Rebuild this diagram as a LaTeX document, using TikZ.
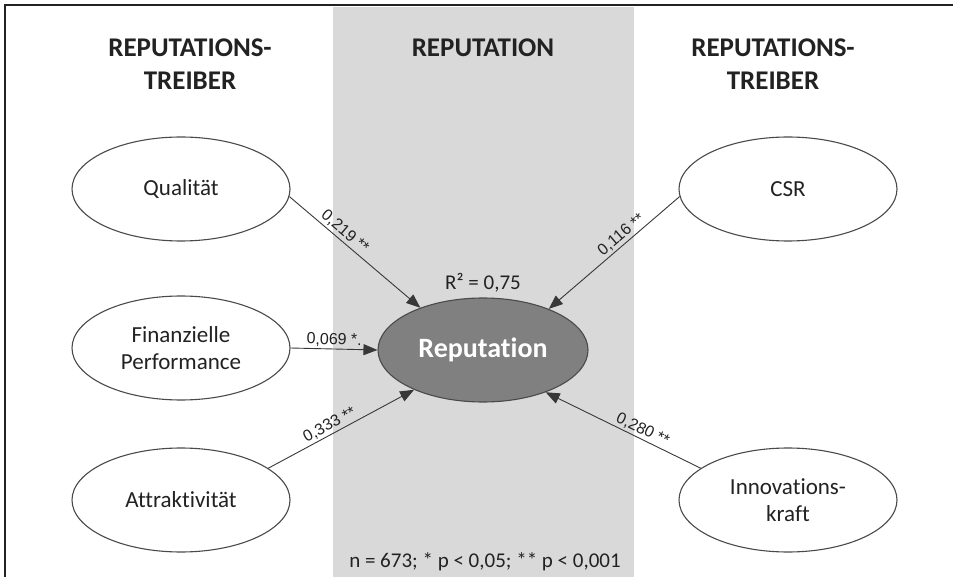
\documentclass[tikz,border=0pt]{standalone}
\usepackage{fontspec}
\setmainfont{Carlito}[Ligatures=NoCommon]
\newfontfamily\arialfont{Liberation Sans}
\usetikzlibrary{shapes.geometric,arrows.meta}
\definecolor{band}{HTML}{D9D9D9}
\definecolor{repfill}{HTML}{808080}
\definecolor{ink}{HTML}{222222}
\definecolor{edge}{HTML}{4A4A4A}
\tikzset{
  driver/.style={ellipse, draw=edge, line width=1.1pt, fill=white, minimum width=218pt, minimum height=104pt, inner sep=0pt, align=center, font=\fontsize{23}{27}\selectfont, text=ink},
  central/.style={ellipse, draw=edge, line width=1.1pt, fill=repfill, minimum width=210pt, minimum height=104pt, inner sep=0pt, font=\fontsize{28}{31}\selectfont\bfseries, text=white},
  header/.style={align=center, font=\fontsize{27}{33}\selectfont\bfseries, text=ink},
  path/.style={draw=ink!90, line width=0.9pt, -{Triangle[length=14pt,width=11pt]}},
  coef/.style={sloped, above, inner sep=2pt, font=\arialfont\fontsize{16}{18}\selectfont, text=ink},
  note/.style={font=\fontsize{21}{25}\selectfont, text=ink}
}
\begin{document}
\begin{tikzpicture}[x=1pt,y=-1pt]
\useasboundingbox (0,0) rectangle (953,577);
\fill[band] (333,7) rectangle (634,577);
\draw[ink, line width=1.4pt] (5,577) -- (5,5) -- (953,5);

\node[header] (hl) at (190,64) {REPUTATIONS-\\TREIBER};
\node[header] (hc) at (483,48) {REPUTATION};
\node[header] (hr) at (773,64) {REPUTATIONS-\\TREIBER};

\node[driver] (q) at (181,189) {Qualität};
\node[driver] (f) at (181,348) {Finanzielle\\Performance};
\node[driver] (a) at (181,500) {Attraktivität};
\node[driver] (c) at (788,189) {CSR};
\node[driver] (i) at (788,500) {Innovations-\\kraft};

\node[central] (r) at (483,350) {Reputation};
\node[note] (r2) at (483,283) {R² = 0,75};
\node[note] (n) at (485,562) {n = 673; * p < 0,05; ** p < 0,001};

\draw[path] (q.-4) -- (r.146) node[coef, pos=0.38] {0,219 **};
\draw[path] (f.east) -- (r.west) node[coef, pos=0.5] {0,069 *.};
\draw[path] (a.20) -- (r.-150) node[coef, pos=0.45] {0,333 **};
\draw[path] (c.184) -- (r.32) node[coef, pos=0.4] {0,116 **};
\draw[path] (i.160) -- (r.-34) node[coef, pos=0.4] {0,280 **};
\end{tikzpicture}
\end{document}
